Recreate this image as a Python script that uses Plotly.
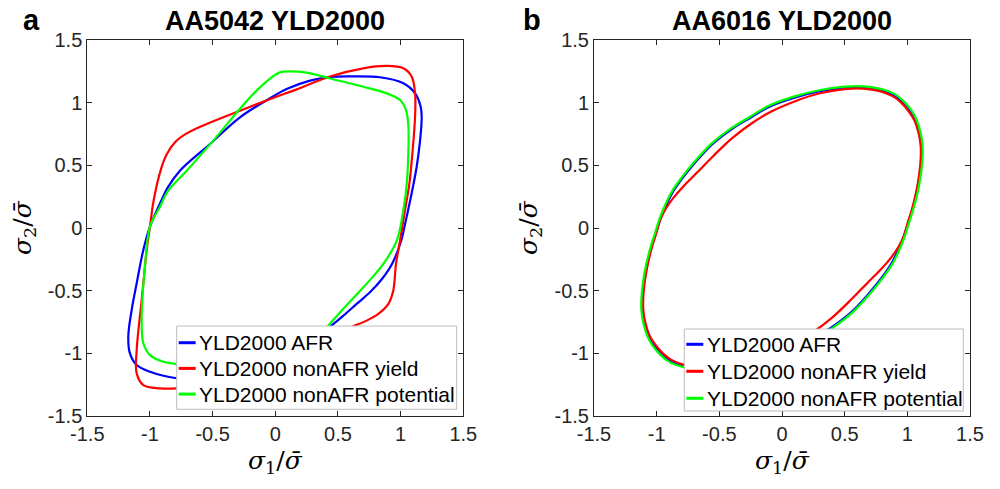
import plotly.graph_objects as go

# ---------------- Panel a : AA5042 YLD2000 ----------------
a_afr_x = [1.035, 1.088, 1.128, 1.155, 1.168, 1.160, 1.115, 1.022, 0.835, 0.600, 0.436, 0.277, 0.090, -0.029, -0.282, -0.521, -0.761, -0.860, -0.907, -1.000,
           -1.053, -1.106, -1.146, -1.173, -1.160, -1.106, -1.000, -0.787, -0.600, -0.436, -0.277, -0.090, 0.029, 0.282, 0.410, 0.543, 0.649, 0.755, 0.851, 0.931, 1.005, 1.035]
a_afr_y = [0.030, 0.277, 0.489, 0.697, 0.888, 0.968, 1.075, 1.155, 1.203, 1.210, 1.205, 1.176, 1.109, 1.043, 0.883, 0.670, 0.457, 0.320, 0.223, 0.011,
           -0.175, -0.441, -0.654, -0.867, -1.000, -1.093, -1.147, -1.199, -1.210, -1.205, -1.176, -1.109, -1.043, -0.883, -0.806, -0.699, -0.606, -0.513, -0.407, -0.287, -0.100, 0.030]

a_yld_x = [0.995, 1.035, 1.070, 1.096, 1.115, 1.115, 1.088, 1.022, 0.889, 0.702, 0.437, 0.144, -0.003, -0.282, -0.548, -0.707, -0.800, -0.865, -0.912, -0.970, -1.000,
           -1.026, -1.066, -1.106, -1.106, -1.053, -0.920, -0.787, -0.600, -0.437, -0.144, 0.003, 0.282, 0.450, 0.596, 0.729, 0.822, 0.902, 0.941, 0.963, 0.995]
a_yld_y = [-0.101, 0.144, 0.356, 0.622, 0.888, 1.075, 1.208, 1.274, 1.293, 1.274, 1.209, 1.096, 1.043, 0.936, 0.830, 0.755, 0.685, 0.590, 0.470, 0.223, 0.011,
           -0.175, -0.574, -0.973, -1.160, -1.253, -1.279, -1.279, -1.255, -1.209, -1.096, -1.043, -0.936, -0.860, -0.793, -0.739, -0.686, -0.606, -0.500, -0.287, -0.101]

a_pot_x = [0.969, 1.022, 1.049, 1.062, 1.062, 1.043, 0.995, 0.889, 0.702, 0.437, 0.250, 0.117, 0.037, -0.029, -0.149, -0.295, -0.495, -0.707, -0.854, -0.920, -1.000,
           -1.040, -1.066, -1.053, -1.000, -0.894, -0.787, -0.702, -0.437, -0.250, -0.117, -0.037, 0.029, 0.149, 0.295, 0.410, 0.520, 0.640, 0.760, 0.862, 0.969]
a_pot_y = [-0.101, 0.144, 0.356, 0.622, 0.808, 0.941, 1.021, 1.074, 1.127, 1.193, 1.240, 1.250, 1.242, 1.202, 1.096, 0.936, 0.697, 0.457, 0.298, 0.170, 0.011,
           -0.309, -0.708, -0.920, -1.014, -1.067, -1.088, -1.127, -1.193, -1.240, -1.250, -1.242, -1.202, -1.096, -0.936, -0.793, -0.670, -0.540, -0.410, -0.287, -0.101]

# ---------------- Panel b : AA6016 YLD2000 ----------------
b_afr_x = [1.005, 1.040, 1.075, 1.100, 1.113, 1.112, 1.095, 1.063, 1.022, 0.960, 0.888, 0.780, 0.649, 0.500, 0.303, 0.100, -0.100, -0.255, -0.400, -0.560, -0.708, -0.800, -0.867, -0.925, -0.970,
           -1.005, -1.040, -1.075, -1.100, -1.113, -1.112, -1.095, -1.063, -1.022, -0.960, -0.888, -0.780, -0.649, -0.500, -0.303, -0.100, 0.100, 0.255, 0.400, 0.560, 0.708, 0.800, 0.867, 0.925, 0.970, 1.005]
b_afr_y = [0.040, 0.150, 0.290, 0.430, 0.560, 0.660, 0.760, 0.860, 0.931, 1.005, 1.060, 1.100, 1.120, 1.118, 1.091, 1.040, 0.968, 0.878, 0.790, 0.665, 0.505, 0.390, 0.293, 0.180, 0.070,
           -0.040, -0.150, -0.290, -0.430, -0.560, -0.660, -0.760, -0.860, -0.931, -1.005, -1.060, -1.100, -1.120, -1.118, -1.091, -1.040, -0.968, -0.878, -0.790, -0.665, -0.505, -0.390, -0.293, -0.180, -0.070, 0.040]

b_yld_x = [1.003, 1.037, 1.071, 1.095, 1.107, 1.106, 1.089, 1.057, 1.015, 0.953, 0.882, 0.780, 0.649, 0.500, 0.303, 0.100, -0.100, -0.255, -0.400, -0.548, -0.680, -0.780, -0.867, -0.930, -0.972,
           -1.003, -1.037, -1.071, -1.095, -1.107, -1.106, -1.089, -1.057, -1.015, -0.953, -0.882, -0.780, -0.649, -0.500, -0.303, -0.100, 0.100, 0.255, 0.400, 0.548, 0.680, 0.780, 0.867, 0.930, 0.972, 1.003]
b_yld_y = [0.040, 0.150, 0.290, 0.430, 0.560, 0.660, 0.760, 0.857, 0.925, 0.998, 1.052, 1.092, 1.112, 1.108, 1.075, 1.010, 0.922, 0.826, 0.715, 0.575, 0.440, 0.340, 0.240, 0.150, 0.065,
           -0.040, -0.150, -0.290, -0.430, -0.560, -0.660, -0.760, -0.857, -0.925, -0.998, -1.052, -1.092, -1.112, -1.108, -1.075, -1.010, -0.922, -0.826, -0.715, -0.575, -0.440, -0.340, -0.240, -0.150, -0.065, 0.040]

b_pot_x = [1.013, 1.048, 1.084, 1.109, 1.122, 1.121, 1.104, 1.072, 1.031, 0.968, 0.896, 0.787, 0.655, 0.504, 0.306, 0.101, -0.101, -0.258, -0.404, -0.565, -0.714, -0.807, -0.875, -0.933, -0.978,
           -1.013, -1.048, -1.084, -1.109, -1.122, -1.121, -1.104, -1.072, -1.031, -0.968, -0.896, -0.787, -0.655, -0.504, -0.306, -0.101, 0.101, 0.258, 0.404, 0.565, 0.714, 0.807, 0.875, 0.933, 0.978, 1.013]
b_pot_y = [0.040, 0.151, 0.292, 0.434, 0.565, 0.666, 0.767, 0.868, 0.940, 1.014, 1.070, 1.110, 1.130, 1.128, 1.101, 1.050, 0.977, 0.886, 0.797, 0.671, 0.510, 0.394, 0.296, 0.182, 0.071,
           -0.040, -0.151, -0.292, -0.434, -0.565, -0.666, -0.767, -0.868, -0.940, -1.014, -1.070, -1.110, -1.130, -1.128, -1.101, -1.050, -0.977, -0.886, -0.797, -0.671, -0.510, -0.394, -0.296, -0.182, -0.071, 0.040]

series_names = ["YLD2000 AFR", "YLD2000 nonAFR yield", "YLD2000 nonAFR potential"]
series_colors = ["#0000FF", "#FF0000", "#00FF00"]
panel_titles = ["AA5042 YLD2000", "AA6016 YLD2000"]
panel_letters = ["a", "b"]
tick_vals = [-1.5, -1.0, -0.5, 0.0, 0.5, 1.0, 1.5]
tick_text = ["-1.5", "-1", "-0.5", "0", "0.5", "1", "1.5"]

panels = [
    [(a_afr_x, a_afr_y), (a_yld_x, a_yld_y), (a_pot_x, a_pot_y)],
    [(b_afr_x, b_afr_y), (b_yld_x, b_yld_y), (b_pot_x, b_pot_y)],
]

W, H = 1000, 489
fig = go.Figure()

axis_ids = [("x", "y"), ("x2", "y2")]
for p, curves in enumerate(panels):
    xa, ya = axis_ids[p]
    for (cx, cy), name, col in zip(curves, series_names, series_colors):
        fig.add_trace(go.Scatter(
            x=cx, y=cy, mode="lines", name=name, showlegend=False,
            line=dict(color=col, width=2.2, shape="spline", smoothing=1.0),
            xaxis=xa, yaxis=ya, hoverinfo="skip"))

ax_color = "#262626"
tickfont = dict(family="Liberation Sans, Arial, sans-serif", size=20, color=ax_color)

def axis_common(domain):
    return dict(domain=domain, range=[-1.5, 1.5], tickvals=tick_vals, ticktext=tick_text,
                ticks="inside", ticklen=5, tickwidth=1, tickcolor=ax_color,
                showline=True, linecolor=ax_color, linewidth=1, mirror="ticks",
                showgrid=False, zeroline=False, tickfont=tickfont, fixedrange=True,
                automargin=False)

ydom = [1 - 416 / H, 1 - 40 / H]
x1dom = [87.3 / W, 463.3 / W]
x2dom = [594 / W, 970 / W]

fig.update_layout(
    width=W, height=H,
    paper_bgcolor="white", plot_bgcolor="white",
    margin=dict(l=0, r=0, t=0, b=0, pad=0, autoexpand=False),
    showlegend=False,
    xaxis=dict(axis_common(x1dom), anchor="y"),
    yaxis=dict(axis_common(ydom), anchor="x"),
    xaxis2=dict(axis_common(x2dom), anchor="y2"),
    yaxis2=dict(axis_common(ydom), anchor="x2"),
)

annots = []
shapes = []
centers = [(x1dom[0] + x1dom[1]) / 2, (x2dom[0] + x2dom[1]) / 2]
letter_x = [31 / W, 532 / W]
ylab_x = [24 / W, 530 / W]
# legend boxes (page pixels): left, right, top, bottom; first row centre; row step
legend_boxes = [(176.7, 456.7, 326.0, 409.3, 342.7, 25.7),
                (684.3, 963.3, 329.0, 411.0, 344.3, 27.0)]
for p in range(2):
    annots.append(dict(text="<b>" + panel_titles[p] + "</b>", x=centers[p], y=1 - 21 / H,
                       xref="paper", yref="paper", showarrow=False, xanchor="center", yanchor="middle",
                       font=dict(family="Liberation Sans, Arial, sans-serif", size=27, color="black")))
    annots.append(dict(text="<b>" + panel_letters[p] + "</b>", x=letter_x[p], y=1 - 20 / H,
                       xref="paper", yref="paper", showarrow=False, xanchor="center", yanchor="middle",
                       font=dict(family="Liberation Sans, Arial, sans-serif", size=29, color="black")))
    annots.append(dict(text="<i>σ</i><sub>1</sub>/<i>σ̄</i>", x=centers[p], y=1 - 462 / H,
                       xref="paper", yref="paper", showarrow=False, xanchor="center", yanchor="middle",
                       font=dict(family="DejaVu Serif, serif", size=25, color="black")))
    annots.append(dict(text="<i>σ</i><sub>2</sub>/<i>σ̄</i>", x=ylab_x[p], y=(ydom[0] + ydom[1]) / 2,
                       xref="paper", yref="paper", showarrow=False, xanchor="center", yanchor="middle",
                       textangle=-90,
                       font=dict(family="DejaVu Serif, serif", size=25, color="black")))
    # legend
    L, R, T, B, r0, dr = legend_boxes[p]
    shapes.append(dict(type="rect", xref="paper", yref="paper",
                       x0=L / W, x1=R / W, y0=1 - B / H, y1=1 - T / H,
                       line=dict(color="#bdbdbd", width=1), fillcolor="white", layer="above"))
    for i, (name, col) in enumerate(zip(series_names, series_colors)):
        yc = r0 + i * dr
        shapes.append(dict(type="line", xref="paper", yref="paper",
                           x0=(L + 2) / W, x1=(L + 19) / W, y0=1 - yc / H, y1=1 - yc / H,
                           line=dict(color=col, width=3), layer="above"))
        annots.append(dict(text=name, x=(L + 20.5) / W, y=1 - yc / H,
                           xref="paper", yref="paper", showarrow=False, xanchor="left", yanchor="middle",
                           font=dict(family="Liberation Sans, Arial, sans-serif", size=21, color="black")))
fig.update_layout(annotations=annots, shapes=shapes)

fig.write_html("out.html", config={"displayModeBar": False},
               post_script="document.body.style.margin='0px';")
